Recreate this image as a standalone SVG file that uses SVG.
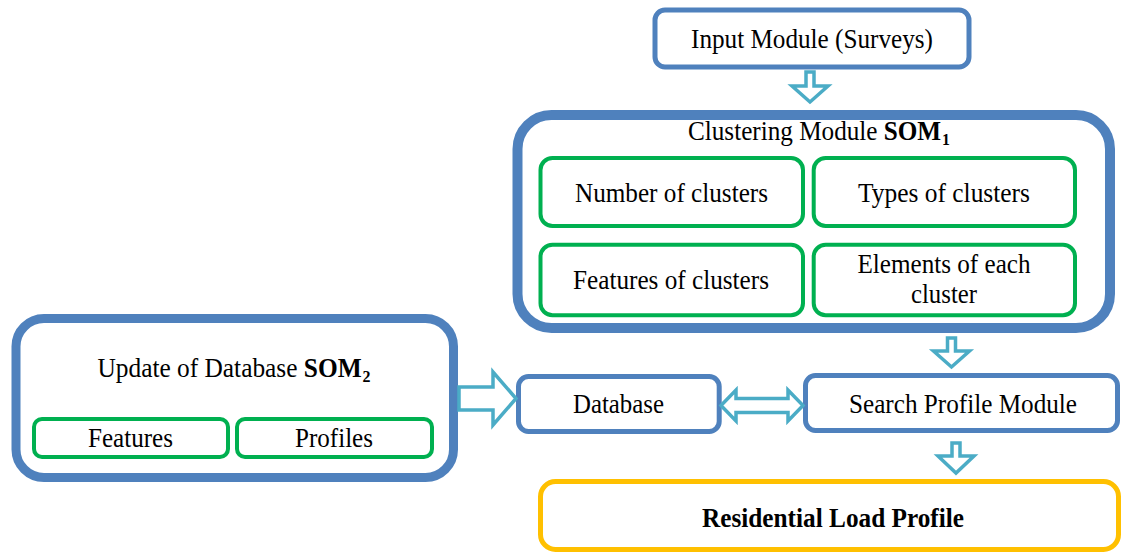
<svg xmlns="http://www.w3.org/2000/svg" width="1121" height="554" viewBox="0 0 1121 554">
<style>
.blue{fill:#fff;stroke:#4F81BD}
.green{fill:#fff;stroke:#00B050;stroke-width:4}
.yellow{fill:#fff;stroke:#FFC000;stroke-width:5}
.arr{fill:#fff;stroke:#4BACC6;stroke-width:3.5;stroke-linejoin:miter}
text{font-family:"Liberation Serif","Times New Roman",serif;font-size:27px;fill:#000;text-anchor:middle}
.b{font-weight:bold}
</style>
<rect width="1121" height="554" fill="#fff"/>
<g id="input">
<rect class="blue" x="655" y="10" width="314" height="57" rx="10" stroke-width="5"/>
<text x="812" y="48" textLength="242" lengthAdjust="spacingAndGlyphs">Input Module (Surveys)</text>
</g>
<g id="clustering">
<rect class="blue" x="517.5" y="115" width="592.5" height="213" rx="34" stroke-width="10"/>
<text x="819" y="140" textLength="262" lengthAdjust="spacingAndGlyphs">Clustering Module <tspan class="b">SOM</tspan><tspan class="b" font-size="17" dx="1" dy="5">1</tspan></text>
</g>
<g id="num-clusters">
<rect class="green" x="540.5" y="158" width="262.5" height="68" rx="12"/>
<text x="671.5" y="202" textLength="193" lengthAdjust="spacingAndGlyphs">Number of clusters</text>
</g>
<g id="types-clusters">
<rect class="green" x="813.7" y="158" width="261.3" height="68" rx="12"/>
<text x="944" y="202" textLength="172" lengthAdjust="spacingAndGlyphs">Types of clusters</text>
</g>
<g id="features-clusters">
<rect class="green" x="540.5" y="244.7" width="262.5" height="70.6" rx="12"/>
<text x="671" y="289" textLength="196" lengthAdjust="spacingAndGlyphs">Features of clusters</text>
</g>
<g id="elements-cluster">
<rect class="green" x="813.7" y="244.7" width="261.3" height="70.6" rx="12"/>
<text x="944" y="273" textLength="173" lengthAdjust="spacingAndGlyphs">Elements of each</text>
<text x="944" y="303" textLength="66" lengthAdjust="spacingAndGlyphs">cluster</text>
</g>
<g id="update">
<rect class="blue" x="16" y="318.5" width="437.5" height="159" rx="28" stroke-width="9"/>
<text x="234" y="377" textLength="273" lengthAdjust="spacingAndGlyphs">Update of Database <tspan class="b">SOM</tspan><tspan class="b" font-size="17" dx="1" dy="5">2</tspan></text>
</g>
<g id="features">
<rect class="green" x="34" y="419" width="194" height="38" rx="8"/>
<text x="130.5" y="447" textLength="85" lengthAdjust="spacingAndGlyphs">Features</text>
</g>
<g id="profiles">
<rect class="green" x="237" y="419" width="195" height="38" rx="8"/>
<text x="334" y="447" textLength="78" lengthAdjust="spacingAndGlyphs">Profiles</text>
</g>
<g id="database">
<rect class="blue" x="518.5" y="376.5" width="200.7" height="55" rx="10" stroke-width="5"/>
<text x="618.5" y="413" textLength="91" lengthAdjust="spacingAndGlyphs">Database</text>
</g>
<g id="search">
<rect class="blue" x="805.5" y="375.5" width="312" height="55" rx="10" stroke-width="5"/>
<text x="963" y="413" textLength="228" lengthAdjust="spacingAndGlyphs">Search Profile Module</text>
</g>
<g id="residential">
<rect class="yellow" x="540.5" y="481.5" width="578" height="68" rx="15"/>
<text class="b" x="833" y="527" textLength="262" lengthAdjust="spacingAndGlyphs">Residential Load Profile</text>
</g>
<g id="connectors">
<path class="arr" d="M806,72 L814,72 L814,86 L828,86 L810,102 L792,86 L806,86 Z"/>
<path class="arr" d="M947.5,338 L955.5,338 L955.5,351 L969.5,351 L951.5,367 L933.5,351 L947.5,351 Z"/>
<path class="arr" d="M952,443 L960,443 L960,456 L974,456 L956,473 L938,456 L952,456 Z"/>
<path class="arr" d="M459,387 L493,387 L493,372 L516,398.5 L493,425 L493,410 L459,410 Z"/>
<path class="arr" d="M721,405.5 L736,390 L736,398.5 L788,398.5 L788,390 L803,405.5 L788,421 L788,412.5 L736,412.5 L736,421 Z"/>
</g>
</svg>
